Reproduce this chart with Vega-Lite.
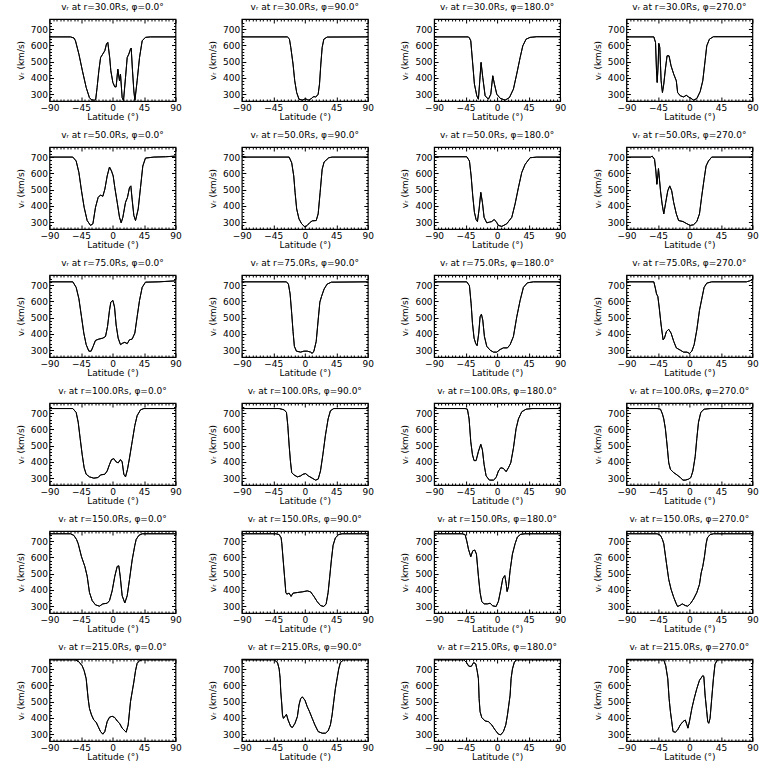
{
"$schema": "https://vega.github.io/schema/vega-lite/v6.json",
"padding": {"left": 15.5, "top": 2, "right": 5, "bottom": 5},
"background": "white",
"datasets": {
"titles": [
{"p":1,"t":"vᵣ at r=30.0Rs, φ=0.0°"},{"p":2,"t":"vᵣ at r=30.0Rs, φ=90.0°"},{"p":3,"t":"vᵣ at r=30.0Rs, φ=180.0°"},{"p":4,"t":"vᵣ at r=30.0Rs, φ=270.0°"},
{"p":5,"t":"vᵣ at r=50.0Rs, φ=0.0°"},{"p":6,"t":"vᵣ at r=50.0Rs, φ=90.0°"},{"p":7,"t":"vᵣ at r=50.0Rs, φ=180.0°"},{"p":8,"t":"vᵣ at r=50.0Rs, φ=270.0°"},
{"p":9,"t":"vᵣ at r=75.0Rs, φ=0.0°"},{"p":10,"t":"vᵣ at r=75.0Rs, φ=90.0°"},{"p":11,"t":"vᵣ at r=75.0Rs, φ=180.0°"},{"p":12,"t":"vᵣ at r=75.0Rs, φ=270.0°"},
{"p":13,"t":"vᵣ at r=100.0Rs, φ=0.0°"},{"p":14,"t":"vᵣ at r=100.0Rs, φ=90.0°"},{"p":15,"t":"vᵣ at r=100.0Rs, φ=180.0°"},{"p":16,"t":"vᵣ at r=100.0Rs, φ=270.0°"},
{"p":17,"t":"vᵣ at r=150.0Rs, φ=0.0°"},{"p":18,"t":"vᵣ at r=150.0Rs, φ=90.0°"},{"p":19,"t":"vᵣ at r=150.0Rs, φ=180.0°"},{"p":20,"t":"vᵣ at r=150.0Rs, φ=270.0°"},
{"p":21,"t":"vᵣ at r=215.0Rs, φ=0.0°"},{"p":22,"t":"vᵣ at r=215.0Rs, φ=90.0°"},{"p":23,"t":"vᵣ at r=215.0Rs, φ=180.0°"},{"p":24,"t":"vᵣ at r=215.0Rs, φ=270.0°"}
]
},
"data": {"values": [
{"p":1,"x":-90,"y":652},{"p":1,"x":-60,"y":652},{"p":1,"x":-55,"y":645},{"p":1,"x":-52.9,"y":628},{"p":1,"x":-48,"y":546},{"p":1,"x":-43,"y":444},{"p":1,"x":-37.6,"y":341},{"p":1,"x":-33,"y":279},{"p":1,"x":-30,"y":265},{"p":1,"x":-26,"y":263},{"p":1,"x":-24,"y":268},{"p":1,"x":-22,"y":341},{"p":1,"x":-19.5,"y":444},{"p":1,"x":-17,"y":525},{"p":1,"x":-14,"y":546},{"p":1,"x":-11,"y":567},{"p":1,"x":-8.6,"y":608},{"p":1,"x":-6.7,"y":618},{"p":1,"x":-4,"y":525},{"p":1,"x":-2.4,"y":444},{"p":1,"x":0.5,"y":372},{"p":1,"x":3.3,"y":345},{"p":1,"x":5.2,"y":345},{"p":1,"x":7.6,"y":454},{"p":1,"x":10,"y":382},{"p":1,"x":11.4,"y":423},{"p":1,"x":13.8,"y":279},{"p":1,"x":15.7,"y":260},{"p":1,"x":18.6,"y":403},{"p":1,"x":21,"y":525},{"p":1,"x":23.3,"y":546},{"p":1,"x":25.7,"y":577},{"p":1,"x":26.7,"y":583},{"p":1,"x":28.5,"y":450},{"p":1,"x":30.5,"y":320},{"p":1,"x":32,"y":262},{"p":1,"x":35.2,"y":382},{"p":1,"x":38.6,"y":525},{"p":1,"x":42.4,"y":628},{"p":1,"x":47,"y":649},{"p":1,"x":54,"y":652},{"p":1,"x":90,"y":652},
{"p":2,"x":-90,"y":652},{"p":2,"x":-25,"y":652},{"p":2,"x":-22,"y":640},{"p":2,"x":-20,"y":587},{"p":2,"x":-16.8,"y":485},{"p":2,"x":-14.4,"y":382},{"p":2,"x":-11.6,"y":310},{"p":2,"x":-8.3,"y":269},{"p":2,"x":-3.5,"y":263},{"p":2,"x":-1,"y":268},{"p":2,"x":1.2,"y":272},{"p":2,"x":3.5,"y":266},{"p":2,"x":5.9,"y":263},{"p":2,"x":8.5,"y":270},{"p":2,"x":10.6,"y":279},{"p":2,"x":13,"y":285},{"p":2,"x":15.4,"y":283},{"p":2,"x":17.5,"y":290},{"p":2,"x":19.1,"y":300},{"p":2,"x":21,"y":362},{"p":2,"x":22.9,"y":485},{"p":2,"x":24.8,"y":587},{"p":2,"x":27.2,"y":638},{"p":2,"x":31.9,"y":651},{"p":2,"x":90,"y":652},
{"p":3,"x":-90,"y":652},{"p":3,"x":-41,"y":652},{"p":3,"x":-39.5,"y":645},{"p":3,"x":-37.6,"y":628},{"p":3,"x":-34.8,"y":485},{"p":3,"x":-32.4,"y":362},{"p":3,"x":-29,"y":290},{"p":3,"x":-26.7,"y":269},{"p":3,"x":-24.8,"y":380},{"p":3,"x":-22.9,"y":495},{"p":3,"x":-20.5,"y":403},{"p":3,"x":-17.1,"y":290},{"p":3,"x":-12.4,"y":269},{"p":3,"x":-9,"y":300},{"p":3,"x":-6.2,"y":413},{"p":3,"x":-3.8,"y":362},{"p":3,"x":-0.5,"y":300},{"p":3,"x":4.3,"y":275},{"p":3,"x":11.4,"y":263},{"p":3,"x":17.6,"y":279},{"p":3,"x":23.3,"y":331},{"p":3,"x":28,"y":423},{"p":3,"x":32.9,"y":525},{"p":3,"x":36.7,"y":597},{"p":3,"x":41.4,"y":638},{"p":3,"x":47.1,"y":649},{"p":3,"x":56.7,"y":653},{"p":3,"x":90,"y":653},
{"p":4,"x":-90,"y":652},{"p":4,"x":-50.8,"y":652},{"p":4,"x":-48.4,"y":618},{"p":4,"x":-47,"y":444},{"p":4,"x":-46,"y":372},{"p":4,"x":-44.6,"y":485},{"p":4,"x":-43.7,"y":612},{"p":4,"x":-42.3,"y":587},{"p":4,"x":-40.4,"y":382},{"p":4,"x":-38.5,"y":310},{"p":4,"x":-36.6,"y":362},{"p":4,"x":-34.3,"y":454},{"p":4,"x":-31.9,"y":536},{"p":4,"x":-29.1,"y":536},{"p":4,"x":-26.2,"y":474},{"p":4,"x":-22.4,"y":423},{"p":4,"x":-18.7,"y":382},{"p":4,"x":-16.8,"y":310},{"p":4,"x":-13,"y":290},{"p":4,"x":-8.3,"y":283},{"p":4,"x":-4.5,"y":293},{"p":4,"x":-1.2,"y":283},{"p":4,"x":2.1,"y":275},{"p":4,"x":5.9,"y":263},{"p":4,"x":10.6,"y":273},{"p":4,"x":15.4,"y":316},{"p":4,"x":19.1,"y":382},{"p":4,"x":22.4,"y":505},{"p":4,"x":24.8,"y":597},{"p":4,"x":28.6,"y":638},{"p":4,"x":34.3,"y":653},{"p":4,"x":90,"y":653},
{"p":5,"x":-90,"y":700},{"p":5,"x":-56.7,"y":700},{"p":5,"x":-51.9,"y":676},{"p":5,"x":-48,"y":605},{"p":5,"x":-44.3,"y":493},{"p":5,"x":-40.5,"y":391},{"p":5,"x":-36.2,"y":310},{"p":5,"x":-31.4,"y":280},{"p":5,"x":-28,"y":290},{"p":5,"x":-24.3,"y":391},{"p":5,"x":-20.5,"y":452},{"p":5,"x":-17.1,"y":467},{"p":5,"x":-13.8,"y":459},{"p":5,"x":-10.9,"y":503},{"p":5,"x":-7.6,"y":584},{"p":5,"x":-4.3,"y":639},{"p":5,"x":-1.4,"y":614},{"p":5,"x":1,"y":584},{"p":5,"x":3.3,"y":513},{"p":5,"x":6.7,"y":422},{"p":5,"x":10,"y":330},{"p":5,"x":12.4,"y":296},{"p":5,"x":14.8,"y":330},{"p":5,"x":18.6,"y":422},{"p":5,"x":21.4,"y":452},{"p":5,"x":24.3,"y":513},{"p":5,"x":26.2,"y":523},{"p":5,"x":28,"y":442},{"p":5,"x":30.5,"y":341},{"p":5,"x":32.9,"y":310},{"p":5,"x":36.7,"y":381},{"p":5,"x":40,"y":513},{"p":5,"x":43.3,"y":645},{"p":5,"x":47.1,"y":694},{"p":5,"x":59,"y":700},{"p":5,"x":75.7,"y":702},{"p":5,"x":90,"y":706},
{"p":6,"x":-90,"y":706},{"p":6,"x":-84,"y":700},{"p":6,"x":-22.4,"y":700},{"p":6,"x":-18.7,"y":665},{"p":6,"x":-15.8,"y":584},{"p":6,"x":-13.9,"y":483},{"p":6,"x":-11.6,"y":381},{"p":6,"x":-8.3,"y":320},{"p":6,"x":-4.5,"y":290},{"p":6,"x":0.2,"y":270},{"p":6,"x":3.5,"y":280},{"p":6,"x":6.8,"y":296},{"p":6,"x":10.6,"y":308},{"p":6,"x":16.3,"y":310},{"p":6,"x":19.1,"y":351},{"p":6,"x":21.9,"y":483},{"p":6,"x":24.8,"y":625},{"p":6,"x":27.6,"y":670},{"p":6,"x":34.3,"y":696},{"p":6,"x":39,"y":700},{"p":6,"x":88,"y":700},{"p":6,"x":90,"y":706},
{"p":7,"x":-90,"y":702},{"p":7,"x":-43.3,"y":702},{"p":7,"x":-39.5,"y":676},{"p":7,"x":-37.1,"y":584},{"p":7,"x":-34.8,"y":462},{"p":7,"x":-32.4,"y":361},{"p":7,"x":-30,"y":316},{"p":7,"x":-28.1,"y":304},{"p":7,"x":-25.7,"y":381},{"p":7,"x":-23.3,"y":483},{"p":7,"x":-21,"y":422},{"p":7,"x":-18.6,"y":330},{"p":7,"x":-14.8,"y":296},{"p":7,"x":-11,"y":300},{"p":7,"x":-7.6,"y":304},{"p":7,"x":-4.3,"y":316},{"p":7,"x":-1.4,"y":304},{"p":7,"x":1.9,"y":280},{"p":7,"x":6.7,"y":274},{"p":7,"x":13.8,"y":290},{"p":7,"x":21,"y":330},{"p":7,"x":25.7,"y":412},{"p":7,"x":30.5,"y":513},{"p":7,"x":35.2,"y":605},{"p":7,"x":40,"y":655},{"p":7,"x":47.1,"y":696},{"p":7,"x":56.7,"y":700},{"p":7,"x":90,"y":700},
{"p":8,"x":-90,"y":700},{"p":8,"x":-55.5,"y":700},{"p":8,"x":-53.1,"y":706},{"p":8,"x":-49.8,"y":686},{"p":8,"x":-47.9,"y":615},{"p":8,"x":-46.5,"y":533},{"p":8,"x":-45.1,"y":584},{"p":8,"x":-44.2,"y":629},{"p":8,"x":-43.2,"y":584},{"p":8,"x":-41.3,"y":493},{"p":8,"x":-39,"y":412},{"p":8,"x":-36.6,"y":351},{"p":8,"x":-33.8,"y":422},{"p":8,"x":-30.9,"y":493},{"p":8,"x":-28.1,"y":523},{"p":8,"x":-25.3,"y":493},{"p":8,"x":-22.5,"y":422},{"p":8,"x":-18.7,"y":351},{"p":8,"x":-15.4,"y":310},{"p":8,"x":-9.2,"y":304},{"p":8,"x":-3.5,"y":290},{"p":8,"x":1.2,"y":280},{"p":8,"x":5.9,"y":284},{"p":8,"x":10.6,"y":304},{"p":8,"x":14.4,"y":351},{"p":8,"x":17.7,"y":462},{"p":8,"x":21,"y":564},{"p":8,"x":23.8,"y":645},{"p":8,"x":27.2,"y":676},{"p":8,"x":31.9,"y":700},{"p":8,"x":88,"y":700},{"p":8,"x":90,"y":706},
{"p":9,"x":-90,"y":720},{"p":9,"x":-56.7,"y":720},{"p":9,"x":-51.9,"y":686},{"p":9,"x":-48,"y":616},{"p":9,"x":-44.3,"y":505},{"p":9,"x":-41,"y":405},{"p":9,"x":-37.6,"y":334},{"p":9,"x":-33.8,"y":294},{"p":9,"x":-30.5,"y":294},{"p":9,"x":-27.6,"y":324},{"p":9,"x":-24.3,"y":360},{"p":9,"x":-19.5,"y":368},{"p":9,"x":-13.8,"y":374},{"p":9,"x":-10,"y":384},{"p":9,"x":-7.1,"y":445},{"p":9,"x":-4.3,"y":545},{"p":9,"x":-2.4,"y":595},{"p":9,"x":0.5,"y":606},{"p":9,"x":2.9,"y":565},{"p":9,"x":5.2,"y":455},{"p":9,"x":8.1,"y":374},{"p":9,"x":11.4,"y":334},{"p":9,"x":14.8,"y":344},{"p":9,"x":17.6,"y":348},{"p":9,"x":21,"y":340},{"p":9,"x":24.3,"y":364},{"p":9,"x":28.1,"y":368},{"p":9,"x":31.9,"y":405},{"p":9,"x":35.2,"y":505},{"p":9,"x":38.6,"y":606},{"p":9,"x":42.4,"y":686},{"p":9,"x":47.1,"y":718},{"p":9,"x":66.2,"y":720},{"p":9,"x":90,"y":726},
{"p":10,"x":-90,"y":720},{"p":10,"x":-26.2,"y":720},{"p":10,"x":-23.4,"y":706},{"p":10,"x":-21,"y":646},{"p":10,"x":-18.7,"y":525},{"p":10,"x":-16.8,"y":415},{"p":10,"x":-14.9,"y":324},{"p":10,"x":-12,"y":294},{"p":10,"x":-5.9,"y":288},{"p":10,"x":-1.2,"y":294},{"p":10,"x":3.5,"y":294},{"p":10,"x":8.3,"y":288},{"p":10,"x":10.6,"y":280},{"p":10,"x":13,"y":294},{"p":10,"x":16.3,"y":354},{"p":10,"x":19.1,"y":485},{"p":10,"x":21.5,"y":595},{"p":10,"x":23.9,"y":630},{"p":10,"x":27.6,"y":676},{"p":10,"x":31.9,"y":706},{"p":10,"x":38,"y":718},{"p":10,"x":90,"y":720},
{"p":11,"x":-90,"y":720},{"p":11,"x":-43.3,"y":720},{"p":11,"x":-39.5,"y":696},{"p":11,"x":-37.1,"y":585},{"p":11,"x":-35.2,"y":465},{"p":11,"x":-32.9,"y":374},{"p":11,"x":-30.5,"y":340},{"p":11,"x":-28.6,"y":328},{"p":11,"x":-26.2,"y":405},{"p":11,"x":-24.3,"y":505},{"p":11,"x":-22.4,"y":521},{"p":11,"x":-20.5,"y":485},{"p":11,"x":-18.1,"y":384},{"p":11,"x":-14.8,"y":324},{"p":11,"x":-10,"y":300},{"p":11,"x":-5.2,"y":288},{"p":11,"x":-0.5,"y":288},{"p":11,"x":4.3,"y":304},{"p":11,"x":9,"y":314},{"p":11,"x":14.8,"y":314},{"p":11,"x":18.6,"y":334},{"p":11,"x":23.3,"y":384},{"p":11,"x":28.1,"y":505},{"p":11,"x":32.9,"y":606},{"p":11,"x":37.6,"y":686},{"p":11,"x":43.3,"y":714},{"p":11,"x":51.9,"y":720},{"p":11,"x":90,"y":720},
{"p":12,"x":-90,"y":720},{"p":12,"x":-50.8,"y":720},{"p":12,"x":-48.4,"y":676},{"p":12,"x":-47,"y":646},{"p":12,"x":-45.1,"y":630},{"p":12,"x":-43.2,"y":565},{"p":12,"x":-40.4,"y":455},{"p":12,"x":-37.6,"y":364},{"p":12,"x":-35.7,"y":374},{"p":12,"x":-32.8,"y":415},{"p":12,"x":-29.5,"y":428},{"p":12,"x":-26.2,"y":405},{"p":12,"x":-22.4,"y":354},{"p":12,"x":-18.7,"y":314},{"p":12,"x":-13,"y":300},{"p":12,"x":-8.3,"y":288},{"p":12,"x":-3.5,"y":288},{"p":12,"x":0.2,"y":280},{"p":12,"x":3.5,"y":294},{"p":12,"x":6.8,"y":334},{"p":12,"x":10.6,"y":425},{"p":12,"x":14.4,"y":545},{"p":12,"x":18.2,"y":626},{"p":12,"x":21,"y":686},{"p":12,"x":24.8,"y":712},{"p":12,"x":31.9,"y":720},{"p":12,"x":81.5,"y":720},{"p":12,"x":86.2,"y":726},{"p":12,"x":90,"y":734},
{"p":13,"x":-90,"y":728},{"p":13,"x":-56.7,"y":728},{"p":13,"x":-51.9,"y":704},{"p":13,"x":-49,"y":644},{"p":13,"x":-46.2,"y":544},{"p":13,"x":-43.3,"y":444},{"p":13,"x":-40.5,"y":364},{"p":13,"x":-37.6,"y":324},{"p":13,"x":-32.9,"y":308},{"p":13,"x":-26.7,"y":300},{"p":13,"x":-20.5,"y":304},{"p":13,"x":-17.1,"y":320},{"p":13,"x":-11,"y":324},{"p":13,"x":-7.6,"y":344},{"p":13,"x":-4.3,"y":384},{"p":13,"x":-1.4,"y":414},{"p":13,"x":1.9,"y":420},{"p":13,"x":5.2,"y":400},{"p":13,"x":8.1,"y":394},{"p":13,"x":11.4,"y":414},{"p":13,"x":13.8,"y":400},{"p":13,"x":16.2,"y":324},{"p":13,"x":18.6,"y":308},{"p":13,"x":21.4,"y":354},{"p":13,"x":24.3,"y":424},{"p":13,"x":28.1,"y":524},{"p":13,"x":31.9,"y":624},{"p":13,"x":35.2,"y":684},{"p":13,"x":40,"y":720},{"p":13,"x":44.8,"y":728},{"p":13,"x":90,"y":728},
{"p":14,"x":-90,"y":728},{"p":14,"x":-36.6,"y":728},{"p":14,"x":-29.5,"y":720},{"p":14,"x":-26.2,"y":704},{"p":14,"x":-24.3,"y":624},{"p":14,"x":-22.4,"y":504},{"p":14,"x":-20.5,"y":404},{"p":14,"x":-18.7,"y":334},{"p":14,"x":-15.4,"y":320},{"p":14,"x":-10.6,"y":308},{"p":14,"x":-5.9,"y":314},{"p":14,"x":-2.6,"y":324},{"p":14,"x":1.2,"y":328},{"p":14,"x":5,"y":314},{"p":14,"x":10.6,"y":300},{"p":14,"x":15.4,"y":288},{"p":14,"x":19.1,"y":294},{"p":14,"x":22.4,"y":344},{"p":14,"x":25.8,"y":444},{"p":14,"x":29.5,"y":564},{"p":14,"x":33.3,"y":664},{"p":14,"x":36.6,"y":714},{"p":14,"x":41.3,"y":728},{"p":14,"x":90,"y":728},
{"p":15,"x":-90,"y":728},{"p":15,"x":-45.7,"y":728},{"p":15,"x":-42.4,"y":724},{"p":15,"x":-40,"y":664},{"p":15,"x":-37.6,"y":524},{"p":15,"x":-35.2,"y":444},{"p":15,"x":-32.9,"y":408},{"p":15,"x":-30,"y":408},{"p":15,"x":-26.7,"y":464},{"p":15,"x":-23.3,"y":508},{"p":15,"x":-21,"y":474},{"p":15,"x":-18.6,"y":384},{"p":15,"x":-15.7,"y":314},{"p":15,"x":-11,"y":288},{"p":15,"x":-5.2,"y":288},{"p":15,"x":-1.4,"y":304},{"p":15,"x":1.9,"y":344},{"p":15,"x":5.2,"y":364},{"p":15,"x":9,"y":360},{"p":15,"x":12.9,"y":340},{"p":15,"x":16.2,"y":364},{"p":15,"x":19.5,"y":394},{"p":15,"x":23.3,"y":484},{"p":15,"x":27.1,"y":604},{"p":15,"x":30.5,"y":664},{"p":15,"x":35.2,"y":708},{"p":15,"x":41.4,"y":724},{"p":15,"x":50,"y":728},{"p":15,"x":90,"y":728},
{"p":16,"x":-90,"y":728},{"p":16,"x":-46.1,"y":728},{"p":16,"x":-41.3,"y":724},{"p":16,"x":-38.5,"y":694},{"p":16,"x":-36.6,"y":664},{"p":16,"x":-34.3,"y":604},{"p":16,"x":-31.9,"y":504},{"p":16,"x":-29.5,"y":394},{"p":16,"x":-27.1,"y":354},{"p":16,"x":-22.4,"y":334},{"p":16,"x":-17.7,"y":320},{"p":16,"x":-13,"y":304},{"p":16,"x":-9.2,"y":288},{"p":16,"x":-5.9,"y":288},{"p":16,"x":-1.2,"y":294},{"p":16,"x":2.1,"y":304},{"p":16,"x":5,"y":344},{"p":16,"x":8.3,"y":434},{"p":16,"x":10.6,"y":544},{"p":16,"x":13,"y":644},{"p":16,"x":16.3,"y":704},{"p":16,"x":21,"y":724},{"p":16,"x":30,"y":728},{"p":16,"x":90,"y":728},
{"p":17,"x":-90,"y":745},{"p":17,"x":-60,"y":745},{"p":17,"x":-55.2,"y":735},{"p":17,"x":-51.4,"y":710},{"p":17,"x":-49,"y":684},{"p":17,"x":-44.3,"y":604},{"p":17,"x":-39.5,"y":544},{"p":17,"x":-36.2,"y":484},{"p":17,"x":-32.9,"y":384},{"p":17,"x":-29,"y":334},{"p":17,"x":-24.3,"y":308},{"p":17,"x":-18.6,"y":300},{"p":17,"x":-13.8,"y":314},{"p":17,"x":-7.6,"y":318},{"p":17,"x":-4.3,"y":334},{"p":17,"x":-0.5,"y":394},{"p":17,"x":3.3,"y":484},{"p":17,"x":6.7,"y":544},{"p":17,"x":9,"y":548},{"p":17,"x":11,"y":484},{"p":17,"x":13.8,"y":364},{"p":17,"x":17.6,"y":320},{"p":17,"x":21,"y":364},{"p":17,"x":24.3,"y":464},{"p":17,"x":28.1,"y":584},{"p":17,"x":31.9,"y":674},{"p":17,"x":33.8,"y":710},{"p":17,"x":37.6,"y":735},{"p":17,"x":42.4,"y":745},{"p":17,"x":90,"y":745},
{"p":18,"x":-90,"y":745},{"p":18,"x":-41.3,"y":745},{"p":18,"x":-36.6,"y":740},{"p":18,"x":-33.8,"y":720},{"p":18,"x":-32.8,"y":684},{"p":18,"x":-30.9,"y":584},{"p":18,"x":-29,"y":484},{"p":18,"x":-27.1,"y":384},{"p":18,"x":-25.7,"y":374},{"p":18,"x":-22.4,"y":380},{"p":18,"x":-19.6,"y":360},{"p":18,"x":-16.8,"y":380},{"p":18,"x":-10.6,"y":384},{"p":18,"x":-3.5,"y":388},{"p":18,"x":3.5,"y":394},{"p":18,"x":8.3,"y":388},{"p":18,"x":13,"y":360},{"p":18,"x":17.7,"y":328},{"p":18,"x":22.4,"y":304},{"p":18,"x":27.2,"y":298},{"p":18,"x":30.5,"y":314},{"p":18,"x":33.3,"y":384},{"p":18,"x":35.7,"y":484},{"p":18,"x":38,"y":584},{"p":18,"x":40.4,"y":674},{"p":18,"x":43.7,"y":720},{"p":18,"x":48.4,"y":740},{"p":18,"x":53.1,"y":745},{"p":18,"x":90,"y":745},
{"p":19,"x":-90,"y":745},{"p":19,"x":-50,"y":745},{"p":19,"x":-45.7,"y":740},{"p":19,"x":-43.3,"y":700},{"p":19,"x":-40.9,"y":650},{"p":19,"x":-37.6,"y":604},{"p":19,"x":-34.8,"y":640},{"p":19,"x":-31.9,"y":645},{"p":19,"x":-29.5,"y":620},{"p":19,"x":-26.7,"y":484},{"p":19,"x":-24.3,"y":384},{"p":19,"x":-21.9,"y":328},{"p":19,"x":-18.6,"y":314},{"p":19,"x":-13.8,"y":314},{"p":19,"x":-10,"y":318},{"p":19,"x":-6.2,"y":302},{"p":19,"x":-1.4,"y":298},{"p":19,"x":1.9,"y":330},{"p":19,"x":5.2,"y":400},{"p":19,"x":8.1,"y":470},{"p":19,"x":11,"y":488},{"p":19,"x":12.9,"y":440},{"p":19,"x":14.3,"y":390},{"p":19,"x":16.2,"y":420},{"p":19,"x":18.6,"y":520},{"p":19,"x":21.9,"y":620},{"p":19,"x":25.7,"y":684},{"p":19,"x":29,"y":725},{"p":19,"x":33.8,"y":742},{"p":19,"x":40,"y":745},{"p":19,"x":90,"y":745},
{"p":20,"x":-90,"y":745},{"p":20,"x":-46,"y":745},{"p":20,"x":-41.3,"y":735},{"p":20,"x":-38.5,"y":710},{"p":20,"x":-36.6,"y":684},{"p":20,"x":-32.8,"y":564},{"p":20,"x":-29.5,"y":464},{"p":20,"x":-26.2,"y":404},{"p":20,"x":-22.4,"y":354},{"p":20,"x":-18.7,"y":314},{"p":20,"x":-16.8,"y":298},{"p":20,"x":-13,"y":306},{"p":20,"x":-10.2,"y":314},{"p":20,"x":-5.9,"y":304},{"p":20,"x":-2.6,"y":300},{"p":20,"x":1.2,"y":314},{"p":20,"x":5.9,"y":344},{"p":20,"x":10.6,"y":384},{"p":20,"x":14.4,"y":434},{"p":20,"x":16.8,"y":504},{"p":20,"x":19.1,"y":544},{"p":20,"x":21.5,"y":604},{"p":20,"x":23.9,"y":684},{"p":20,"x":25.7,"y":720},{"p":20,"x":29.5,"y":740},{"p":20,"x":34.3,"y":745},{"p":20,"x":90,"y":745},
{"p":21,"x":-90,"y":757},{"p":21,"x":-52.9,"y":757},{"p":21,"x":-48.1,"y":745},{"p":21,"x":-43.3,"y":720},{"p":21,"x":-40.5,"y":690},{"p":21,"x":-37.6,"y":641},{"p":21,"x":-34.8,"y":519},{"p":21,"x":-32.9,"y":458},{"p":21,"x":-30,"y":418},{"p":21,"x":-26.7,"y":387},{"p":21,"x":-23.3,"y":373},{"p":21,"x":-20.5,"y":347},{"p":21,"x":-17.1,"y":316},{"p":21,"x":-13.8,"y":300},{"p":21,"x":-11,"y":316},{"p":21,"x":-7.6,"y":377},{"p":21,"x":-4.3,"y":404},{"p":21,"x":-0.5,"y":410},{"p":21,"x":3.3,"y":402},{"p":21,"x":6.7,"y":381},{"p":21,"x":10,"y":367},{"p":21,"x":13.8,"y":337},{"p":21,"x":19.5,"y":312},{"p":21,"x":22.4,"y":357},{"p":21,"x":25.7,"y":499},{"p":21,"x":28.1,"y":560},{"p":21,"x":30.5,"y":621},{"p":21,"x":32.9,"y":690},{"p":21,"x":35.2,"y":735},{"p":21,"x":38.6,"y":752},{"p":21,"x":42.4,"y":757},{"p":21,"x":90,"y":757},
{"p":22,"x":-90,"y":757},{"p":22,"x":-43.7,"y":757},{"p":22,"x":-39,"y":740},{"p":22,"x":-36.6,"y":700},{"p":22,"x":-35.2,"y":641},{"p":22,"x":-34.3,"y":560},{"p":22,"x":-32.8,"y":479},{"p":22,"x":-31.9,"y":418},{"p":22,"x":-30.5,"y":397},{"p":22,"x":-28.6,"y":408},{"p":22,"x":-26.2,"y":422},{"p":22,"x":-23.9,"y":387},{"p":22,"x":-20.1,"y":347},{"p":22,"x":-17.7,"y":341},{"p":22,"x":-14,"y":367},{"p":22,"x":-10.6,"y":408},{"p":22,"x":-8.3,"y":479},{"p":22,"x":-5.9,"y":519},{"p":22,"x":-3.5,"y":529},{"p":22,"x":0.2,"y":509},{"p":22,"x":3.5,"y":469},{"p":22,"x":6.8,"y":438},{"p":22,"x":10.6,"y":397},{"p":22,"x":14.4,"y":357},{"p":22,"x":19.1,"y":316},{"p":22,"x":24.8,"y":306},{"p":22,"x":29.5,"y":306},{"p":22,"x":33.3,"y":320},{"p":22,"x":36.6,"y":357},{"p":22,"x":39,"y":418},{"p":22,"x":41.3,"y":499},{"p":22,"x":43.7,"y":580},{"p":22,"x":46.1,"y":641},{"p":22,"x":48.4,"y":700},{"p":22,"x":50.8,"y":740},{"p":22,"x":55.5,"y":757},{"p":22,"x":90,"y":757},
{"p":23,"x":-90,"y":757},{"p":23,"x":-47.6,"y":757},{"p":23,"x":-44,"y":742},{"p":23,"x":-40.5,"y":718},{"p":23,"x":-37,"y":716},{"p":23,"x":-33.5,"y":740},{"p":23,"x":-30.5,"y":732},{"p":23,"x":-28.5,"y":690},{"p":23,"x":-26.7,"y":641},{"p":23,"x":-25.7,"y":519},{"p":23,"x":-24.3,"y":438},{"p":23,"x":-21.9,"y":402},{"p":23,"x":-17.1,"y":381},{"p":23,"x":-12.4,"y":377},{"p":23,"x":-7.6,"y":357},{"p":23,"x":-2.9,"y":326},{"p":23,"x":1.9,"y":300},{"p":23,"x":5.2,"y":296},{"p":23,"x":9,"y":316},{"p":23,"x":12.4,"y":357},{"p":23,"x":14.8,"y":418},{"p":23,"x":16.7,"y":479},{"p":23,"x":18.6,"y":540},{"p":23,"x":20,"y":641},{"p":23,"x":21.9,"y":700},{"p":23,"x":24.8,"y":745},{"p":23,"x":28.1,"y":757},{"p":23,"x":90,"y":757},
{"p":24,"x":-90,"y":757},{"p":24,"x":-36.6,"y":757},{"p":24,"x":-33.8,"y":720},{"p":24,"x":-30.9,"y":641},{"p":24,"x":-29,"y":519},{"p":24,"x":-27.1,"y":438},{"p":24,"x":-25.2,"y":377},{"p":24,"x":-23.4,"y":316},{"p":24,"x":-20.1,"y":312},{"p":24,"x":-16.8,"y":326},{"p":24,"x":-13,"y":357},{"p":24,"x":-9.2,"y":377},{"p":24,"x":-5.9,"y":387},{"p":24,"x":-3.5,"y":357},{"p":24,"x":-2.1,"y":337},{"p":24,"x":0.2,"y":381},{"p":24,"x":3.5,"y":458},{"p":24,"x":6.8,"y":519},{"p":24,"x":10.6,"y":580},{"p":24,"x":14.4,"y":631},{"p":24,"x":19.1,"y":660},{"p":24,"x":20.6,"y":655},{"p":24,"x":22.4,"y":540},{"p":24,"x":24.8,"y":438},{"p":24,"x":26.2,"y":377},{"p":24,"x":27.6,"y":367},{"p":24,"x":29.5,"y":397},{"p":24,"x":31.9,"y":519},{"p":24,"x":34.3,"y":641},{"p":24,"x":36.6,"y":730},{"p":24,"x":39.9,"y":757},{"p":24,"x":90,"y":757}
]},
"transform": [{"lookup": "p", "from": {"data": {"name": "titles"}, "key": "p", "fields": ["t"]}}],
"facet": {"field": "t", "type": "nominal", "sort": {"field": "p", "op": "min"},
  "header": {"title": null, "labelFont": "DejaVu Sans", "labelFontSize": 9, "labelColor": "black", "labelPadding": 3}},
"columns": 4,
"bounds": "flush",
"spacing": {"row": 46, "column": 66.3},
"spec": {
  "width": 126, "height": 82,
  "layer": [
    {"mark": {"type": "line", "color": "black", "strokeWidth": 1},
     "encoding": {
       "x": {"field": "x", "type": "quantitative", "scale": {"domain": [-90, 90], "nice": false, "zero": false},
             "axis": {"orient": "bottom", "title": "Latitude (°)", "values": [-90,-85,-80,-75,-70,-65,-60,-55,-50,-45,-40,-35,-30,-25,-20,-15,-10,-5,0,5,10,15,20,25,30,35,40,45,50,55,60,65,70,75,80,85,90],
                      "labelExpr": "datum.value % 45 === 0 ? datum.label : ''",
                      "tickSize": {"condition": {"test": "datum.value % 45 === 0", "value": -4}, "value": -2},
                      "labelFlush": false, "labelOverlap": false,
                      "labelPadding": 6, "titlePadding": -2}},
       "y": {"field": "y", "type": "quantitative", "scale": {"domain": [258, 762], "nice": false, "zero": false},
             "axis": {"orient": "left", "title": "vᵣ (km/s)", "values": [260,280,300,320,340,360,380,400,420,440,460,480,500,520,540,560,580,600,620,640,660,680,700,720,740,760],
                      "labelExpr": "datum.value % 100 === 0 ? datum.label : ''",
                      "tickSize": {"condition": {"test": "datum.value % 100 === 0", "value": -4}, "value": -2},
                      "labelFlush": false, "labelOverlap": false,
                      "labelPadding": 6, "titlePadding": 5}}
     }},
    {"mark": {"type": "line", "color": "black", "strokeWidth": 1},
     "encoding": {
       "x": {"field": "x", "type": "quantitative",
             "axis": {"orient": "top", "title": null, "labels": false, "values": [-90,-85,-80,-75,-70,-65,-60,-55,-50,-45,-40,-35,-30,-25,-20,-15,-10,-5,0,5,10,15,20,25,30,35,40,45,50,55,60,65,70,75,80,85,90],
                      "tickSize": {"condition": {"test": "datum.value % 45 === 0", "value": -4}, "value": -2}}},
       "y": {"field": "y", "type": "quantitative",
             "axis": {"orient": "right", "title": null, "labels": false, "values": [260,280,300,320,340,360,380,400,420,440,460,480,500,520,540,560,580,600,620,640,660,680,700,720,740,760],
                      "tickSize": {"condition": {"test": "datum.value % 100 === 0", "value": -4}, "value": -2}}}
     }}
  ],
  "resolve": {"axis": {"x": "independent", "y": "independent"}}
},
"resolve": {"axis": {"x": "independent", "y": "independent"}},
"config": {
  "view": {"stroke": "black", "strokeWidth": 1.2},
  "axis": {"grid": false, "domain": false, "tickColor": "black", "tickWidth": 1,
           "labelFont": "DejaVu Sans", "labelFontSize": 9, "labelColor": "black",
           "titleFont": "DejaVu Sans", "titleFontSize": 9, "titleFontWeight": "normal", "titleColor": "black"}
}
}
